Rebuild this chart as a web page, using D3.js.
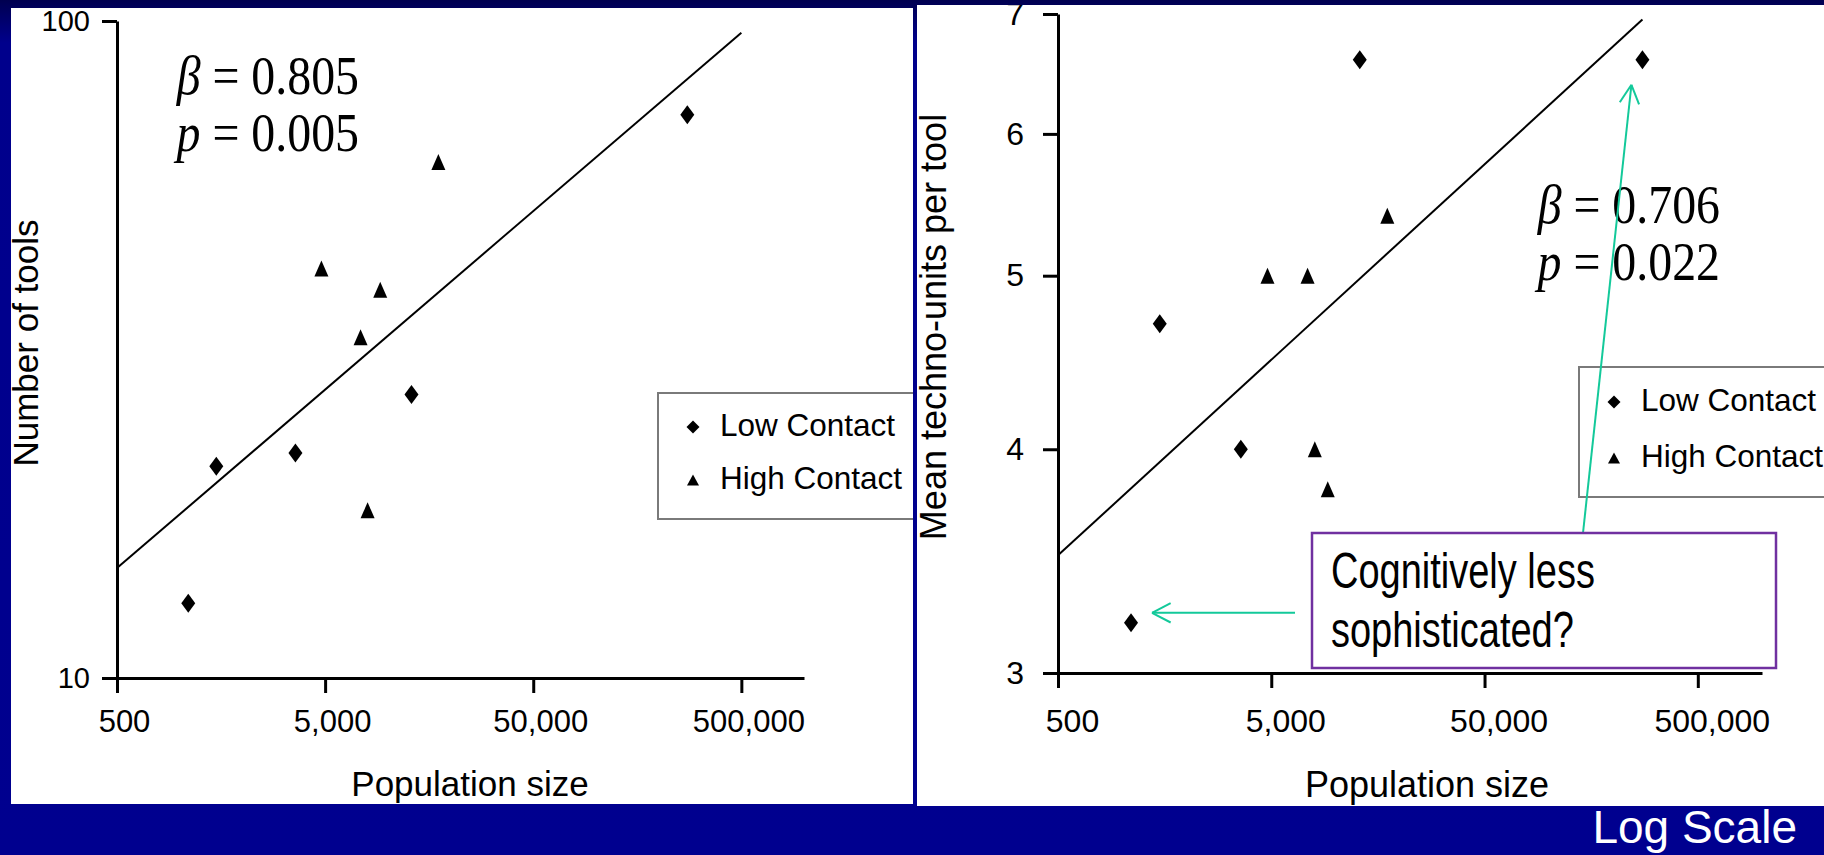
<!DOCTYPE html>
<html>
<head>
<meta charset="utf-8">
<script src="https://cdn.jsdelivr.net/npm/d3@7"></script>
<style>
body{margin:0;overflow:hidden;background:#00008f;}
text{font-family:"Liberation Sans",Arial,sans-serif;fill:#000;}
.serif{font-family:"Liberation Serif","Times New Roman",serif;}
</style>
</head>
<body>
<script>
// island data
var islands = ["Malekula","Tikopia","Santa Cruz","Yap","Lau Fiji","Trobriand","Chuuk","Manus","Tonga","Hawaii"];
var population = [1100,1500,3600,4800,7400,8000,9200,13000,17500,275000];
var contact = ["Low","Low","Low","High","High","High","High","Low","High","Low"];
var toolCount = [13,21,22,42,33,18,39,27,61,72];
var technoUnits = [3.2,4.7,4.0,5.0,5.0,4.0,3.8,6.6,5.4,6.6];
var popTicks = [500,5000,50000,500000];
var toolTicks = [10,100];
var unitTicks = [3,4,5,6,7];
var toolFit = [[500,14.7],[500000,96]];
var unitFit = [[500,3.49],[275000,6.95]];
var legendNames = ["Low Contact","High Contact"];
var toolStats = ["0.805","0.005"];
var unitStats = ["0.706","0.022"];
var noteLines = ["Cognitively less","sophisticated?"];

var rows = islands.map(function(n,i){
  return {name:n, pop:population[i], contact:contact[i], tools:toolCount[i], units:technoUnits[i]};
});

var svg = d3.select("body").append("svg")
    .attr("width", 1824)
    .attr("height", 855);

var defs = svg.append("defs");
var grad = defs.append("linearGradient").attr("id","bg").attr("x1",0).attr("y1",0).attr("x2",0).attr("y2",1);
grad.append("stop").attr("offset","0").attr("stop-color","#000050");
grad.append("stop").attr("offset","0.05").attr("stop-color","#00008c");
grad.append("stop").attr("offset","1").attr("stop-color","#00008f");
svg.append("rect").attr("width",1824).attr("height",855).attr("fill","url(#bg)");

defs.append("clipPath").attr("id","clipL").append("rect")
    .attr("x",11).attr("y",8).attr("width",902).attr("height",796);
defs.append("clipPath").attr("id","clipR").append("rect")
    .attr("x",917).attr("y",5).attr("width",907).attr("height",801);

svg.append("rect").attr("x",11).attr("y",8).attr("width",902).attr("height",796).attr("fill","#fff");
svg.append("rect").attr("x",917).attr("y",5).attr("width",907).attr("height",801).attr("fill","#fff");

function markerPath(type, w, h){
  if (type == "Low") return "M0," + (-h/2) + "L" + (w/2) + ",0L0," + (h/2) + "L" + (-w/2) + ",0Z";
  return "M0," + (-h/2) + "L" + (w/2) + "," + (h/2) + "L" + (-w/2) + "," + (h/2) + "Z";
}

function drawPanel(p){
  var g = svg.append("g").attr("clip-path","url(#" + p.clip + ")");

  // x axis
  var xa = g.append("g")
      .attr("transform","translate(0," + p.y.range()[0] + ")")
      .call(d3.axisBottom(p.x).tickValues(popTicks).tickSize(15).tickSizeOuter(0)
        .tickPadding(p.xPad).tickFormat(d3.format(",")));
  // y axis
  var ya = g.append("g")
      .attr("transform","translate(" + p.x.range()[0] + ",0)")
      .call(d3.axisLeft(p.y).tickValues(p.yTicks).tickSize(15).tickSizeOuter(0)
        .tickPadding(p.yPad).tickFormat(d3.format("d")));
  g.selectAll(".domain, .tick line").attr("stroke","#000").style("stroke-width",3);
  xa.selectAll("text").attr("dx",p.xdx).style("font-size",p.tickFont+"px").attr("font-family",null);
  ya.selectAll("text").style("font-size",p.yTickFont+"px").attr("font-family",null);

  // regression line
  g.append("path")
      .datum(p.fit)
      .attr("d", d3.line().x(function(d){return p.x(d[0]);}).y(function(d){return p.y(d[1]);}))
      .attr("fill","none").attr("stroke","#000").style("stroke-width",2);

  // points
  g.selectAll(".dot")
      .data(rows)
    .enter().append("path")
      .attr("class","dot")
      .attr("d", function(d){ return d.contact == "Low" ? markerPath("Low",14,19) : markerPath("High",14,16); })
      .attr("transform", function(d){ return "translate(" + p.x(d.pop) + "," + p.y(d[p.key]) + ")"; })
      .attr("fill","#000");

  // stats, condensed times like the slide
  p.stats.forEach(function(s,i){
    var t = g.append("text").attr("class","serif")
        .attr("transform","translate(" + p.statX + "," + p.statY[i] + ") scale(0.87,1)")
        .attr("text-anchor","end").style("font-size","55px");
    t.append("tspan").style("font-style","italic").text(i==0 ? "\u03b2" : "p");
    t.append("tspan").text(" = " + s);
  });

  // legend
  var lg = g.append("g").attr("transform","translate(" + p.legend[0] + "," + p.legend[1] + ")");
  lg.append("rect").attr("x",0).attr("y",0).attr("width",300).attr("height",p.legend[2])
      .attr("fill","#fff").attr("stroke","#7a7a7a").style("stroke-width",2);
  legendNames.forEach(function(n,i){
    lg.append("path").attr("d", i==0 ? markerPath("Low",13,13) : markerPath("High",12,11))
        .attr("transform","translate(35," + (p.legendRow[i]) + ")").attr("fill","#000");
    lg.append("text").attr("x",62).attr("y",p.legendRow[i]+9).style("font-size","31.5px").text(n);
  });

  // axis titles
  g.append("text")
      .attr("x",p.xTitle[0]).attr("y",p.xTitle[1])
      .attr("text-anchor","middle").style("font-size",p.titleFont+"px")
      .text("Population size");
  g.append("text")
      .attr("transform","translate(" + p.yTitle[0] + "," + p.yTitle[1] + ") rotate(-90)")
      .attr("text-anchor","middle").style("font-size",p.titleFont+"px")
      .text(p.yLabel);
  return g;
}

var xL = d3.scaleLog().domain([500,1e6]).range([117,804]);
var yL = d3.scaleLog().domain([10,100]).range([678,21]);
var xR = d3.scaleLog().domain([500,1e6]).range([1058,1762]);
var yR = d3.scaleLog().domain([3,7]).range([673,14]);

drawPanel({clip:"clipL", x:xL, y:yL, yTicks:toolTicks, key:"tools", fit:toolFit,
  xPad:17, yPad:12, xdx:7, tickFont:31, yTickFont:29,
  stats:toolStats, statX:359, statY:[94,151],
  legend:[658,393,126], legendRow:[34,87],
  xTitle:[470,796], yTitle:[38,343], titleFont:35, yLabel:"Number of tools"});

drawPanel({clip:"clipR", x:xR, y:yR, yTicks:unitTicks, key:"units", fit:unitFit,
  xPad:21, yPad:19, xdx:14, tickFont:32, yTickFont:32,
  stats:unitStats, statX:1720, statY:[223,280],
  legend:[1579,367,130], legendRow:[35,91],
  xTitle:[1427,797], yTitle:[946,327], titleFont:36, yLabel:"Mean techno-units per tool"});

// annotation arrows and note box
var green = "#13c99a";
function arrow(x1,y1,x2,y2){
  var a = Math.atan2(y2-y1, x2-x1), len = 21, spread = 0.48;
  svg.append("line").attr("x1",x1).attr("y1",y1).attr("x2",x2).attr("y2",y2)
      .attr("stroke",green).style("stroke-width",2);
  [-spread, spread].forEach(function(s){
    svg.append("line").attr("x1",x2).attr("y1",y2)
        .attr("x2",x2 - len*Math.cos(a+s)).attr("y2",y2 - len*Math.sin(a+s))
        .attr("stroke",green).style("stroke-width",2);
  });
}
var hawaii = rows[9], malekula = rows[0];
var note = {x:1312, y:533, w:464, h:135};
arrow(1583, note.y, xR(hawaii.pop)-11, yR(hawaii.units)+25);
arrow(note.x-17, yR(malekula.units)-10, xR(malekula.pop)+21, yR(malekula.units)-10);

svg.append("rect").attr("x",note.x).attr("y",note.y).attr("width",note.w).attr("height",note.h)
    .attr("fill","#fff").attr("stroke","#7030a0").style("stroke-width",2.5);
noteLines.forEach(function(l,i){
  svg.append("text")
      .attr("transform","translate(" + (note.x+19) + "," + (note.y+55+i*59) + ") scale(0.76,1)")
      .style("font-size","50px").text(l);
});

svg.append("text").attr("x",1797).attr("y",843).attr("text-anchor","end")
    .style("font-size","46px").style("fill","#fff").text("Log Scale");
</script>
</body>
</html>
